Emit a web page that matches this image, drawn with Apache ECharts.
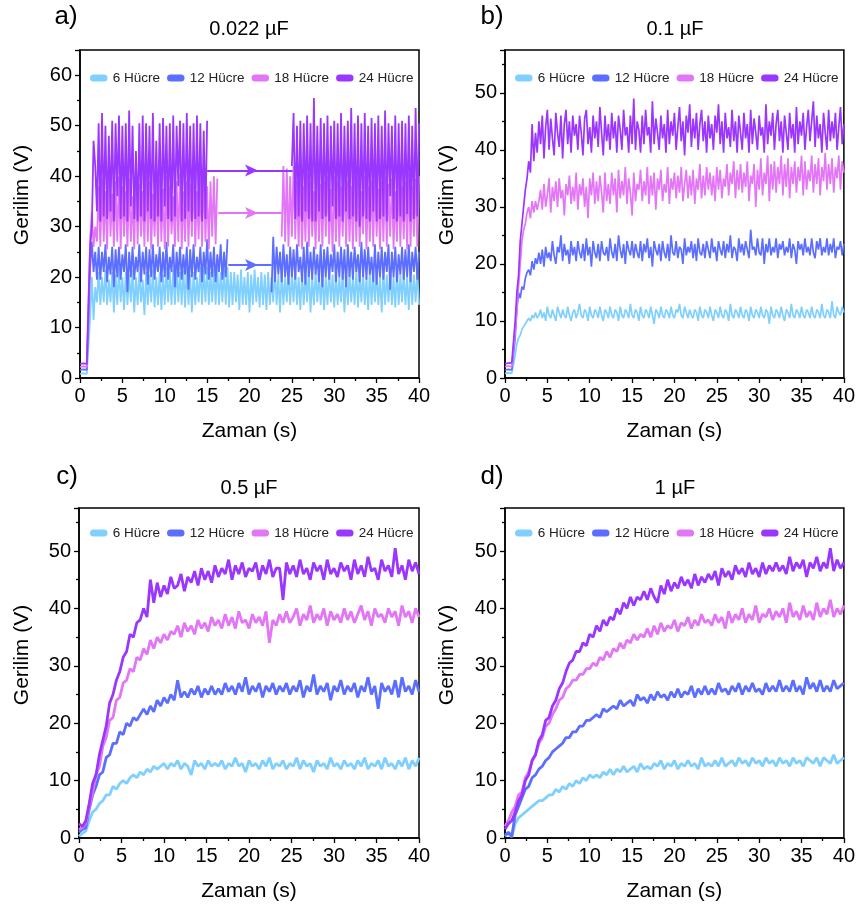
<!DOCTYPE html>
<html><head><meta charset="utf-8">
<script src="https://cdn.jsdelivr.net/npm/echarts@6/dist/echarts.min.js"></script>
<style>html,body{margin:0;padding:0;background:#fff}#c{width:858px;height:909px}</style>
</head><body><div id="c"></div>
<script>
// sampling times (s)
const timeFine = [0,0.2,0.4,0.6,0.8,1,1.2,1.4,1.6,1.8,2,2.2,2.4,2.6,2.8,3,3.2,3.4,3.6,3.8,4,4.2,4.4,4.6,4.8,5,5.2,5.4,5.6,5.8,6,6.2,6.4,6.6,6.8,7,7.2,7.4,7.6,7.8,8,8.2,8.4,8.6,8.8,9,9.2,9.4,9.6,9.8,10,10.2,10.4,10.6,10.8,11,11.2,11.4,11.6,11.8,12,12.2,12.4,12.6,12.8,13,13.2,13.4,13.6,13.8,14,14.2,14.4,14.6,14.8,15,15.2,15.4,15.6,15.8,16,16.2,16.4,16.6,16.8,17,17.2,17.4,17.6,17.8,18,18.2,18.4,18.6,18.8,19,19.2,19.4,19.6,19.8,20,20.2,20.4,20.6,20.8,21,21.2,21.4,21.6,21.8,22,22.2,22.4,22.6,22.8,23,23.2,23.4,23.6,23.8,24,24.2,24.4,24.6,24.8,25,25.2,25.4,25.6,25.8,26,26.2,26.4,26.6,26.8,27,27.2,27.4,27.6,27.8,28,28.2,28.4,28.6,28.8,29,29.2,29.4,29.6,29.8,30,30.2,30.4,30.6,30.8,31,31.2,31.4,31.6,31.8,32,32.2,32.4,32.6,32.8,33,33.2,33.4,33.6,33.8,34,34.2,34.4,34.6,34.8,35,35.2,35.4,35.6,35.8,36,36.2,36.4,36.6,36.8,37,37.2,37.4,37.6,37.8,38,38.2,38.4,38.6,38.8,39,39.2,39.4,39.6,39.8,40];
const timeCoarse = [0,0.4,0.8,1.2,1.6,2,2.4,2.8,3.2,3.6,4,4.4,4.8,5.2,5.6,6,6.4,6.8,7.2,7.6,8,8.4,8.8,9.2,9.6,10,10.4,10.8,11.2,11.6,12,12.4,12.8,13.2,13.6,14,14.4,14.8,15.2,15.6,16,16.4,16.8,17.2,17.6,18,18.4,18.8,19.2,19.6,20,20.4,20.8,21.2,21.6,22,22.4,22.8,23.2,23.6,24,24.4,24.8,25.2,25.6,26,26.4,26.8,27.2,27.6,28,28.4,28.8,29.2,29.6,30,30.4,30.8,31.2,31.6,32,32.4,32.8,33.2,33.6,34,34.4,34.8,35.2,35.6,36,36.4,36.8,37.2,37.6,38,38.4,38.8,39.2,39.6,40];
const seriesNames = ['6 Hücre','12 Hücre','18 Hücre','24 Hücre'];
const colors = ['#80D0FF','#5B6EFF','#E276F7','#9B36FF'];
const panelTitles = ['0.022 µF','0.1 µF','0.5 µF','1 µF'];
const panelLetters = ['a)','b)','c)','d)'];
const xTickValues = [0,5,10,15,20,25,30,35,40];
const yTickStep = 10;

// a) 0.022 uF  (timeFine)
const a6 = [0.8,1.0,0.9,1.1,0.8,1.0,12,20,11.5,18,15,
21,14.5,20,15,21.5,14.5,19.5,15,21,13,
20.5,14.5,22,15,20,13.5,21,14.5,20.5,15,
21.5,13,20,14.5,21,15,19.5,12.5,21,14.5,
20.5,15,21.5,14,20,14.5,21,13.5,20.5,14.5,
22,15,21,14.5,21.5,14.5,22,15,21,14.5,
21.5,14,22,14.5,20.5,13,21,14.5,20,15,
22,14.5,21.5,15,22,14.5,21,15,21.5,14.5,
22,14.5,21,15,21.5,14.5,22,14,21,14.5,
21,15,20.5,13.5,21.5,14.5,20,14.5,21,13,
20.5,14.5,21.5,15,20,14,21,14.5,20.5,13.5,
21,14.5,20,15,21.5,14.5,20.5,13,21,14.5,
20,15,21,14.5,20.5,15,21.5,14.5,20,13.5,
21,14.5,20.5,15,21.5,13,20,14.5,21,15,
20.5,14.5,21,13.5,20,14.5,21.5,15,20.5,14,
21,14.5,20,15,21.5,13,20.5,14.5,21,15,
20,14.5,21.5,14,20.5,15,21,14.5,20,13.5,
21.5,14.5,20.5,15,21,14.5,20,13,21.5,14.5,
20.5,15,21,14.5,20,14,21.5,14.5,20.5,15,
21,14.5,20,13.5,21.5,14.5,20.5,15,21,14.5];
const a12 = [1.6,1.8,1.7,1.9,1.6,1.8,22,27,21,25,19.5,
26,19.5,25,21,26.5,19,24,20.5,26,18,25.5,
20,26,19.5,24.5,21,26.5,17,25,20,26,19.5,
24,21,26.5,19,25,20.5,26,18.5,25.5,20,26.5,
19.5,24.5,21,26,19,25,20,27,19.5,24,21,
26.5,18,25,20,26,19.5,24.5,20.5,26,17.5,25.5,
20,26.5,19.5,24,21,26,19,25,20.5,27.5,19.5,
25,20,26,19,24.5,21,26.5,19.5,25,20,27.5,
null,null,null,null,null,null,null,null,null,null,null,null,null,null,null,null,null,null,null,null,null,null,null,null,null,
17,28,19,26,20.5,25,19,26.5,20,24.5,18.5,
26,20,25.5,19.5,26.5,21,24,19,26,18.5,27,
20,25,19.5,26,20.5,24.5,19,26.5,18,25.5,20,
26,19.5,24.5,21,26.5,19,25,20,26,19.5,25.5,
18,26.5,20,25,19.5,26,21,24.5,19,27,20,
25.5,19.5,26,20.5,24,19,26.5,18.5,25,20,26,
19.5,25,21,26.5,17.5,25,20,26,19,24.5,20.5,
26,19.5,25.5,20,26.5,19,25,21,26,19.5,25];
const a18 = [2.2,2.4,2.3,2.5,2.2,2.4,28,33,26,30,27,
38,26,39.5,27,37,25.5,40,28,36.5,26,39,27,
40,25.5,38,28,37,26,39.5,27,36,25.5,40,26.5,
38.5,28,37,26,40,27,39,25.5,36.5,28,38,26,
39.5,27,37.5,25.5,40,26,38,28.5,36,26,39,27,
40.5,25.5,37,27,39,26,38.5,28,40,26,37,27.5,
39.5,26,40.5,27,38,25.5,39,28,40,26.5,39.5,
null,null,null,null,null,null,null,null,null,null,null,null,null,null,null,null,null,null,null,null,null,null,null,null,null,null,null,null,null,null,null,null,null,null,null,null,null,
28,42,27,41.5,26,40,28,42,27.5,39,26,40.5,
25.5,38,27,40.5,26,39,28,37,25.5,40,27,38.5,
26,39,28,40,26.5,37.5,25,40,27,39,26,38,
28,40.5,26,39,27,38,25.5,40,27,39.5,26,37,
28.5,40,25.5,38,27,39,26,40.5,28,37.5,25.5,39,
27,40,26,38.5,28,39.5,25.5,37,27,40,26,38,
27.5,39,25.5,40.5,26,38,28,39.5,26,40];
const a24 = [2.8,3.0,2.9,3.1,2.8,3.0,26,30,47,42,33,
50.5,31,52.5,32,50,31.5,48,33,51,31,50.5,36,52,
31.5,50,32,50.5,31,53,34,50,31.5,45,31,50.5,32,
52,31,50.5,33,50,31.5,52.5,31,47,32,50.5,31,51.5,
34,50,31.5,50.5,31,52,32,50,38,51,31,50.5,31.5,
52.5,33,50,31,50.5,31.5,52,32,50.5,31,49,31.5,51,
null,null,null,null,null,null,null,null,null,null,null,null,null,null,null,null,null,null,null,null,null,null,null,null,null,null,null,null,null,null,null,null,null,null,null,null,null,null,null,null,null,null,null,null,null,null,null,null,null,
42,52.5,31.5,50,32,51,31,50.5,33,52,31.5,50.5,31,
55.5,31,50,33,51.5,31.5,50.5,32,52,31,50,34,51,
31.5,50.5,32,52.5,31,50,33,51,31.5,53.5,32,50.5,31,
52,30,50.5,32,52.5,31.5,50,31,51.5,33,50.5,31,52,
31.5,50,32,53,31,50.5,36,50,31.5,52,31,50.5,32,
51,31,50.5,32.5,52,31,50,31.5,53.5,32,50.5];
// arrows in panel a: [start x, tip x, end x, level]
const arrow12 = [17.5, 21, 22.6, 22.4];
const arrow18 = [16.3, 21, 23.8, 32.7];
const arrow24 = [15.0, 21, 25.1, 41.1];

// b) 0.1 uF  (timeFine)
const b6 = [0.8,1.0,0.9,1.1,0.8,1.0,4,6,7,7.5,8.5,9,9.5,10,10.5,10,11,10.5,11.5,10.5,11,
12,10.5,11.5,10,12.5,11,10.5,12,11,10,
12.5,11.5,10.5,12,11,10.5,12.5,11,10,11.5,
12,10.5,11.5,13,11,10.5,12,11.5,10,12.5,
11,10.5,12,11.5,10.5,12.5,11,10,12,11.5,
10.5,12.5,11,10.5,12,11.5,10,12.5,11,10.5,
12,11.5,10.5,13,11,10.5,12,11.5,10,12.5,
11,10.5,12,11.5,10.5,12.5,11,9.5,12,11.5,
10.5,12.5,11,10.5,12,11.5,10.5,12.5,11,10.5,
12,11.5,13,11,10.5,12.5,11.5,10.5,12,11,
10.5,12,11.5,10,12.5,11,10.5,12,11.5,10.5,
12.5,11,10,12,11.5,10.5,12.5,11,10.5,12,
11.5,10,13,11,10.5,12,11.5,10.5,12.5,11,
10.5,12,11.5,10,12.5,11,10.5,12,11.5,10.5,
12.5,11,10.5,12,11.5,9.5,12.5,11,10.5,12,
11.5,10.5,12.5,11,10,12,11.5,10.5,13,11,
10.5,12,11.5,10.5,12.5,11,10.5,12,11.5,10.5,
12.5,11,10.5,12,11.5,10.5,13,11,10.5,12,
11.5,10.5,13.5,11,10.5,12.5,11.5,11,12.5,11.5];
const b12 = [1.4,1.6,1.5,1.7,1.4,1.6,7,12,15,14,16,15.5,17.5,18.5,19,18,20.5,19,21,20,22,
20,22.5,19.5,23,21,22,20.5,24,21.5,20,
23,22,25,20.5,23.5,21.5,22.5,20,24,21.5,
23,20.5,24,22,21,23.5,20.5,24.5,21.5,23,
19.5,24,22,21,23.5,20.5,24,22,21.5,23,
20.5,24.5,22,21,23.5,20.5,25,22.5,21,23.5,
20,24,22.5,21.5,24,21,23.5,22,21,24,
20.5,23.5,22,24.5,21,23,19.5,24,22.5,21.5,
23.5,20.5,24,22,21,23.5,20.5,25,22,21.5,
24,21,23,22.5,20,24.5,21.5,23,22,24,
21,23.5,20.5,24.5,22,21.5,23.5,21,24,22.5,
21,24.5,22,23,20.5,24,22.5,21.5,24,21,
23.5,22,25,21,23,22.5,20.5,24.5,22,23.5,
21.5,24,22.5,21,26,22.5,23,21.5,24.5,22,
21.5,24.5,20,23.5,22,24.5,21.5,23,22,24.5,
21,23.5,22.5,24,21.5,23,22,24.5,21,23.5,
22.5,20,24,22.5,23.5,21.5,24.5,22,23,21.5,
24.5,22,21,24,22.5,24.5,21.5,23,22,24.5,
21.5,23.5,22,24.5,21,23,22.5,24,21.5,23.5];
const b18 = [2.0,2.2,2.1,2.3,2.0,2.2,8,12,16,20,24,26,27,29,30,28,31,29,31,29.5,31,
33,29.5,34,30,32,35,29,33.5,31,34.5,
30,35,31.5,33,28.5,34,32,35.5,30.5,33.5,
31,36,29.5,34,32,35,30,33.5,28,35,
32,36,30.5,34.5,31,35.5,32.5,29,36,31,
34,30.5,36,32,35,29,36.5,31.5,34.5,32,
37,30.5,35,32.5,28.5,36,31,34,33,36.5,
31,34.5,32,37,30.5,35.5,32,36,29.5,35,
33,36.5,31,34,32.5,37,30.5,35,33,36,
31.5,35.5,32.5,37,31,34,36.5,31.5,35.5,32,
36.5,30.5,35,33,37.5,31.5,35.5,32,37,33,
36,32,35.5,31,37,33,36.5,31.5,35,33.5,
37.5,32,36,34,38,31.5,36.5,33,37.5,32.5,
36,33.5,38,31,35.5,34,37.5,30,36.5,33,
38.5,32,36,34,39,31,37.5,33,38,32.5,
37,34,39,32,37.5,33.5,38.5,31.5,37,34,
38,32.5,37,34.5,39,32,38,33,36.5,34.5,
39,32.5,37.5,34,38.5,32,37,34.5,39.5,33,
37.5,34,38.5,32.5,37,35,39,33,38,36];
const b24 = [2.5,2.8,2.6,2.9,2.7,3,10,15,18,24,27,30,33,35,38,36,44.5,38,43,39.5,45,
41,46,38.5,44,47,40,45.5,42,39,46.5,
43,40.5,46,38.5,44.5,47,41,45,39.5,46,
42.5,44.5,40,46,43,39,45.5,47,41,44,
39.5,46,42,45,40.5,47.5,43,39,46,41.5,
44.5,40,46.5,42,45,39.5,46,43.5,40,47,
42.5,44,39.5,46,41,49,40,45,43.5,39.5,
46,41,47,42.5,44,39.5,48.5,41,45.5,43,
40,46,42,44.5,39.5,47,41,45,42.5,46.5,
40,44,47.5,41.5,45,39,46,43,48,40.5,
45.5,42,46.5,40,44.5,47,41.5,45,39.5,46,
42,44.5,40,46,43,48,41,45,39.5,46.5,
42,44,40.5,47,41.5,45,39.5,46,43,40,
46.5,42,44.5,39.5,47,41,45.5,43,40,46,
42.5,44,39.5,48,41,45,42.5,46.5,40,44.5,
47,41.5,45,39.5,46,43,40,46.5,42,44.5,
39.5,47.5,41,45,42.5,46.5,40,44,47,41.5,
45,48.5,40.5,46,42,44.5,39.5,46.5,43,40,
47,41.5,45,42,46.5,40,44,47.5,41,44.5];

// c) 0.5 uF  (timeCoarse)
const c6 = [0.3,0.8,1.2,3,4.5,5,6,6.5,7.5,7.5,9,
8.5,9.5,10,9.5,10.5,11,10.5,11.5,11,12,11.5,12.5,12,12.5,13,
12,13,12.5,13.5,12,13,12.5,11,13.5,12.5,13,12,13.5,12.5,13,
12.5,13.5,12,13,12.5,14,12.5,13,11.5,13.5,12.5,13,12,13.5,12.5,14,12,13,12.5,13.5,
12,13,12.5,14,12,13.5,12.5,13,11.5,13.5,12.5,13,12,14,12.5,13,12,13.5,12.5,13,
12,13.5,12.5,14,12,13,12.5,13.5,12,14,12.5,13,12,13.5,12.5,14,12,13.5,12.5,14];
const c12 = [1,1.5,1.8,5,7.5,9,11,11.5,14,14.5,16.5,
16.5,18.5,18,20,19.5,21,20.5,21.5,22.5,21.5,23,22,24,23,24.5,
23.5,25,24,27.5,24.5,25.5,24.5,26,25,26.5,24.5,26,25,26.5,25,
26,25,27,25.5,26.5,25,27,25.5,28,25,26.5,25.5,27,24.5,26.5,25.5,27,25,26.5,25.5,
27,25,26.5,25.5,27.5,24.5,26.5,25.5,28.5,25,26.5,25.5,27,24,26.5,25.5,27.5,25,26.5,25.5,
27,24.5,26.5,25.5,28,25,26.5,22.5,27,25.5,26.5,25,27.5,24.5,28,25.5,26.5,25,27.5,25.5];
const c18 = [1.5,1.8,2.5,5.5,8,11,12.5,16,17.5,20.5,21,
24,24.5,27,27.5,29.5,29,31.5,31,33,32,34.5,33,35,34,35.5,
34.5,36,35.5,37,35,37.5,36,37,35.5,38,36.5,37.5,36,38.5,37,
38,36.5,39,37,38.5,36.5,39.5,37.5,38,36.5,39,37.5,38.5,37,39.5,34,38,37,39,37.5,
39.5,37.5,38.5,40,37,39,38,40.5,37.5,39,38,40,37,39.5,38,39,37.5,40,38,39.5,
37.5,39,40.5,38,39.5,37,40,38.5,39,37.5,40,38.5,39.5,37,40.5,38.5,39.5,37.5,40,38.5];
const c24 = [2.5,2,3,6,9.5,11,14.5,17,19.5,23.5,25,
27.5,29,31.5,32.5,35.5,35,37.5,38,40,38.5,45,41,44.5,42,44,
42.5,45.5,43.5,44,46,43,45.5,44.5,46.5,44,47,45,46.5,44.5,47.5,
45.5,47,46,48.5,45,47.5,46,48,45.5,47,46.5,48,45,47.5,46,48.5,45.5,47,47,41.5,
48,46,47.5,45.5,48.5,46,47,45,48,46.5,47.5,45,48.5,46,47,45.5,48,46.5,47.5,45,
48.5,46,47.5,45.5,49,46.5,47,45,48.5,46.5,47.5,45.5,50.5,46,47.5,45,48.5,46.5,48,46];

// d) 1 uF  (timeCoarse)
const d6 = [0.3,0.8,0.2,2.5,3.5,4,4.5,5,5.5,6,6.5,
6.5,7,7.5,7.5,8.5,8,9,8.5,9.5,9,10,9.5,10.5,10,11,
10.5,11,10.5,11.5,11,12,11,12,11.5,12.5,11.5,12,12.5,11.5,13,
12,12.5,12,13,12.5,13.5,12,13,12.5,13.5,12,13,12.5,13.5,12.5,13,12,14,12.5,13,
12.5,13.5,12.5,14,12.5,13,13.5,12.5,14,13,13.5,12.5,14,13,13.5,12.5,14,13,13.5,12.5,
14,13,13.5,12.5,14,13,13.5,12.5,14,13.5,13,14,12.5,14,13.5,13,14.5,13,13.5,14];
const d12 = [0.5,1,0.3,4,5.5,7,8.5,9,10.5,11,12,
12.5,13.5,14,15,15.5,16,16.5,17.5,17.5,18.5,18.5,19.5,19.5,20.5,20.5,
21,21.5,21,22.5,22,22.5,23,22.5,24,23,23.5,24,23,25,24,
24.5,23.5,25,24,25.5,24.5,25,24,25.5,24.5,26,24.5,25.5,25,26.5,24.5,26,25,26.5,25,
26,25,27,25.5,26,25,26.5,25.5,27,25,26.5,25.5,27,25.5,26,25,27,25.5,26.5,25.5,
27.5,25.5,26.5,25.5,27.5,25.5,26.5,25,28,26,27,25.5,27.5,25.5,26.5,25.5,27.5,26,26.5,27];
const d18 = [2,3,4.5,5.5,7.5,8,10.5,11.5,13.5,14.5,16.5,
17.5,19.5,20,21.5,22.5,24,24.5,26,26.5,27.5,27.5,28.5,28.5,29.5,29.5,
30.5,30,31.5,31,32.5,31.5,33,32.5,34,33,34.5,34,35.5,34.5,35.5,
35,36.5,35,37,35.5,37.5,36,37,36.5,38,36,37.5,37,38.5,36.5,38,37,39,37.5,38,
37,39,37.5,38.5,36.5,39.5,37.5,39,38,40,37.5,39,38,40.5,37.5,39,38.5,40,38,39.5,
38.5,40,37.5,41,38.5,39.5,38,40.5,38.5,39.5,38,41,38.5,40,39,41.5,38.5,40,39,40.5];
const d24 = [1.5,2.5,3,4.5,6.5,7.5,10,11,13.5,14.5,17,
18,20.5,21,23,24,26,27,29,30.5,31,32.5,32.5,34,33.5,35.5,
35,37,36,38,37,38.5,38,40,39,41,40,42,40.5,42,41.5,
43,41.5,43.5,42,41,44,42.5,45,43,44.5,43.5,45.5,44,45,43.5,46,44,45.5,44.5,46,
45,46.5,44,47,45.5,46.5,45,47.5,46,47,45.5,48,46,47,45.5,48,46,47.5,46.5,48,
46.5,47.5,46,49,46.5,48,47,48.5,45.5,48,47,49,46.5,48,47,50.5,46.5,48.5,47,48];

const panelData = [[a6,a12,a18,a24],[b6,b12,b18,b24],[c6,c12,c18,c24],[d6,d12,d18,d24]];
const panelTime = [timeFine, timeFine, timeCoarse, timeCoarse];
const panelLineWidth = [1.8, 1.7, 2.8, 2.8];
const yMax = [65, 57.5, 57.5, 57.5];

const FONT = '"Liberation Sans", Arial, Helvetica, sans-serif';
const grids = [
  {left:80, top:50, width:339, height:328},
  {left:505, top:50, width:340, height:328},
  {left:79, top:508, width:340, height:330},
  {left:505, top:508, width:340, height:330}
];
const legendPos = [[85,66],[510,66],[85,521],[510,521]];
const titlePos = [[249,29],[675,29],[249,488],[675,488]];
const letterPos = [[66,17],[492,17],[67,477],[492,477]];
const yNamePos = [[22,195],[447,195],[22,655],[447,655]];

const pill = 'path://M4,0 H16 A4,4 0 0 1 16,8 H4 A4,4 0 0 1 4,0 Z';

function arrowMark(arr){
  const [x0, xt, x1, y] = arr;
  return {
    silent:true, animation:false, symbol:['none','none'], label:{show:false},
    lineStyle:{type:'solid', width:2, opacity:1},
    emphasis:{disabled:true},
    data:[
      [{coord:[x0,y]},{coord:[xt,y], symbol:'arrow', symbolSize:[9,13]}],
      [{coord:[xt,y]},{coord:[x1,y]}]
    ]
  };
}
const arrowsA = [null, arrow12, arrow18, arrow24];

const series = [];
panelData.forEach((arrs, p) => {
  const tm = panelTime[p];
  arrs.forEach((vals, s) => {
    if (vals.length !== tm.length) throw new Error('length mismatch panel ' + p + ' series ' + s + ': ' + vals.length + ' vs ' + tm.length);
    const ser = {
      type:'line', name:seriesNames[s], xAxisIndex:p, yAxisIndex:p,
      data: tm.map((t,k)=>[t, vals[k]]),
      showSymbol:false, symbol:'none', connectNulls:false,
      lineStyle:{width: panelLineWidth[p], color:colors[s]},
      itemStyle:{color:colors[s]},
      emphasis:{disabled:true}
    };
    if (p===0 && arrowsA[s]) ser.markLine = arrowMark(arrowsA[s]);
    series.push(ser);
  });
});

const axisCommon = {
  axisLine:{show:true, onZero:false, lineStyle:{color:'#000', width:1.5}},
  axisTick:{show:true, length:5, lineStyle:{color:'#000', width:1.3}},
  minorTick:{show:true, splitNumber:2, length:3, lineStyle:{color:'#000', width:1.3}},
  splitLine:{show:false}, minorSplitLine:{show:false}
};

const graphic = [];
for (let p=0;p<4;p++){
  graphic.push({type:'text', x:titlePos[p][0], y:titlePos[p][1], style:{text:panelTitles[p], font:'20px '+FONT, fill:'#000', textAlign:'center', textVerticalAlign:'middle'}});
  graphic.push({type:'text', x:letterPos[p][0], y:letterPos[p][1], style:{text:panelLetters[p], font:'26px '+FONT, fill:'#000', textAlign:'center', textVerticalAlign:'middle'}});
  graphic.push({type:'text', x:yNamePos[p][0], y:yNamePos[p][1], rotation:Math.PI/2, style:{text:'Gerilim (V)', font:'21px '+FONT, fill:'#000', textAlign:'center', textVerticalAlign:'middle'}});
}

const option = {
  animation:false,
  backgroundColor:'#fff',
  grid: grids.map(g=>Object.assign({show:true, borderColor:'#000', borderWidth:1.5, backgroundColor:'transparent'}, g)),
  xAxis: grids.map((g,i)=>Object.assign({
    type:'value', gridIndex:i, min:xTickValues[0], max:xTickValues[xTickValues.length-1], interval:5,
    name:'Zaman (s)', nameLocation:'middle', nameGap:43,
    nameTextStyle:{fontFamily:FONT, fontSize:21, color:'#000'},
    axisLabel:{fontFamily:FONT, fontSize:20, color:'#000', margin:8}
  }, axisCommon)),
  yAxis: grids.map((g,i)=>Object.assign({
    type:'value', gridIndex:i, min:0, max:yMax[i], interval:yTickStep,
    axisLabel:{fontFamily:FONT, fontSize:20, color:'#000', margin:8, showMaxLabel:false}
  }, axisCommon)),
  legend: grids.map((g,i)=>({
    left:legendPos[i][0], top:legendPos[i][1], orient:'horizontal',
    data:seriesNames, icon:pill, itemWidth:18, itemHeight:7, itemGap:7,
    selectedMode:false,
    textStyle:{fontFamily:FONT, fontSize:13.5, color:'#222', padding:[0,0,0,0]}
  })),
  graphic: graphic,
  series: series
};
const chart = echarts.init(document.getElementById('c'), null, {renderer:'canvas'});
chart.setOption(option);
</script></body></html>
